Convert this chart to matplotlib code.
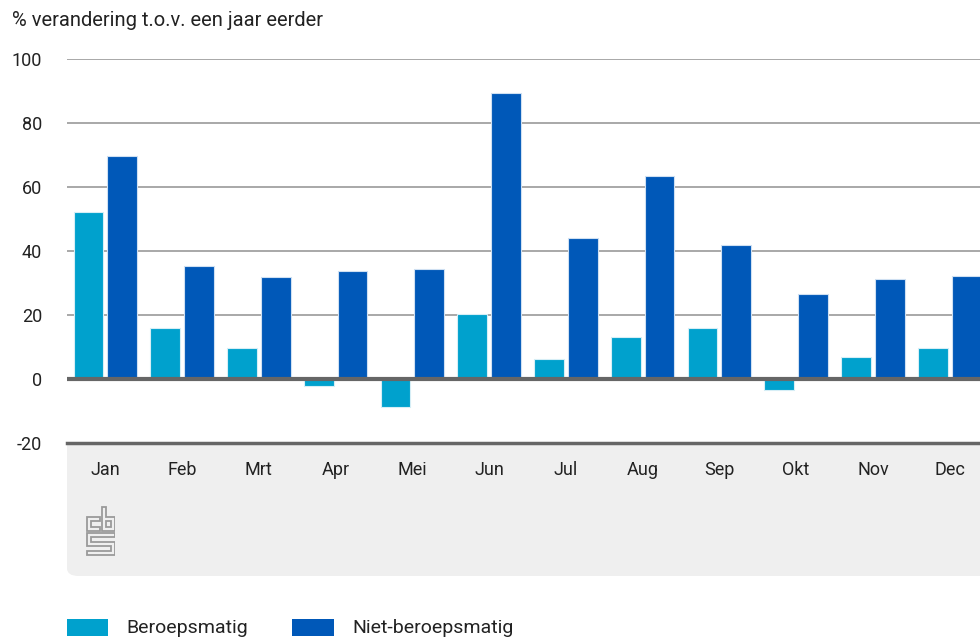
import numpy as np
import matplotlib
matplotlib.use("Agg")
import matplotlib.pyplot as plt
from matplotlib.patches import FancyBboxPatch, Rectangle, Polygon

plt.rcParams["axes.unicode_minus"] = False

months = ["Jan", "Feb", "Mrt", "Apr", "Mei", "Jun", "Jul", "Aug", "Sep", "Okt", "Nov", "Dec"]
beroeps = [52.3, 16.0, 9.6, -2.2, -8.6, 20.2, 6.1, 13.0, 16.0, -3.4, 7.0, 9.6]
niet_beroeps = [69.8, 35.4, 31.8, 33.9, 34.5, 89.3, 44.0, 63.5, 41.8, 26.5, 31.4, 32.2]
yticks = [-20, 0, 20, 40, 60, 80, 100]

LIGHT = "#00a1cd"
DARK = "#0058b8"
FONT = "Roboto"
TXT = "#222222"

W, H = 980, 638
fig = plt.figure(figsize=(W / 100, H / 100), dpi=100)

def fx(px):
    return px / W

def fy(py):
    return 1 - py / H

# grey panel under the axis (x labels + logo)
panel = FancyBboxPatch((fx(67), fy(576)), fx(1100) - fx(67), fy(444) - fy(576),
                       boxstyle="round,pad=0,rounding_size=0.012",
                       transform=fig.transFigure, fc="#efefef", ec="none", zorder=-2)
fig.patches.append(panel)
fig.patches.append(Rectangle((fx(67), fy(520)), fx(1100) - fx(67), fy(444) - fy(520),
                             transform=fig.transFigure, fc="#efefef", ec="none", zorder=-2))

ax = fig.add_axes([fx(67), fy(443), fx(988) - fx(67), fy(59) - fy(443)])
ax.set_facecolor("none")
x = np.arange(len(months))
w = 0.385
off = 0.22
ax.bar(x - off, beroeps, w, color=LIGHT, edgecolor="#d6eef6", linewidth=0.8, zorder=3)
ax.bar(x + off, niet_beroeps, w, color=DARK, edgecolor="#cfe0f2", linewidth=0.8, zorder=3)

ax.set_xlim(-0.5, len(months) - 0.5)
ax.set_ylim(-20, 100)
ax.set_yticks(yticks)
ax.yaxis.grid(True, color="#999999", linewidth=1.2, zorder=0)
ax.axhline(0, color="#666666", linewidth=3, zorder=4)
ax.axhline(-20, color="#666666", linewidth=2.5, zorder=4, clip_on=False)
for s in ax.spines.values():
    s.set_visible(False)
ax.tick_params(axis="both", length=0, labelsize=13, colors=TXT)
ax.tick_params(axis="x", pad=13)
ax.tick_params(axis="y", pad=18)
ax.set_xticks(x)
ax.set_xticklabels(months, fontfamily=FONT)
for lab in ax.get_yticklabels():
    lab.set_fontfamily(FONT)

fig.text(fx(12), fy(20), "% verandering t.o.v. een jaar eerder", fontsize=14.5,
         fontfamily=FONT, color=TXT, va="center", ha="left")

# cbs logo, rough outline
lax = fig.add_axes([fx(86), fy(556), fx(115) - fx(86), fy(506) - fy(556)])
lax.set_xlim(-0.5, 28.5)
lax.set_ylim(48.5, -0.5)
lax.axis("off")
c_shape = [(0, 10), (13, 10), (13, 14), (4, 14), (4, 20), (13, 20), (13, 24), (0, 24)]
b_shape = [(15, 0), (19, 0), (19, 10), (28, 10), (28, 24), (15, 24)]
b_hole = [(19, 14), (24, 14), (24, 20), (19, 20)]
s_shape = [(0, 26), (28, 26), (28, 30), (4, 30), (4, 35), (28, 35), (28, 48), (0, 48),
           (0, 44), (24, 44), (24, 39), (0, 39)]
for pts in (c_shape, b_shape, b_hole, s_shape):
    lax.add_patch(Polygon(pts, closed=True, fc="none", ec="#9a9a9a", lw=1.3))

# legend
fig.patches.append(Rectangle((fx(67), fy(636)), fx(108) - fx(67), fy(619) - fy(636),
                             transform=fig.transFigure, fc=LIGHT, ec="none"))
fig.text(fx(126), fy(628), "Beroepsmatig", fontsize=14, fontfamily=FONT,
         color=TXT, va="center", ha="left")
fig.patches.append(Rectangle((fx(292), fy(636)), fx(334) - fx(292), fy(619) - fy(636),
                             transform=fig.transFigure, fc=DARK, ec="none"))
fig.text(fx(352), fy(628), "Niet-beroepsmatig", fontsize=14, fontfamily=FONT,
         color=TXT, va="center", ha="left")

fig.savefig("out.png", dpi=100)
